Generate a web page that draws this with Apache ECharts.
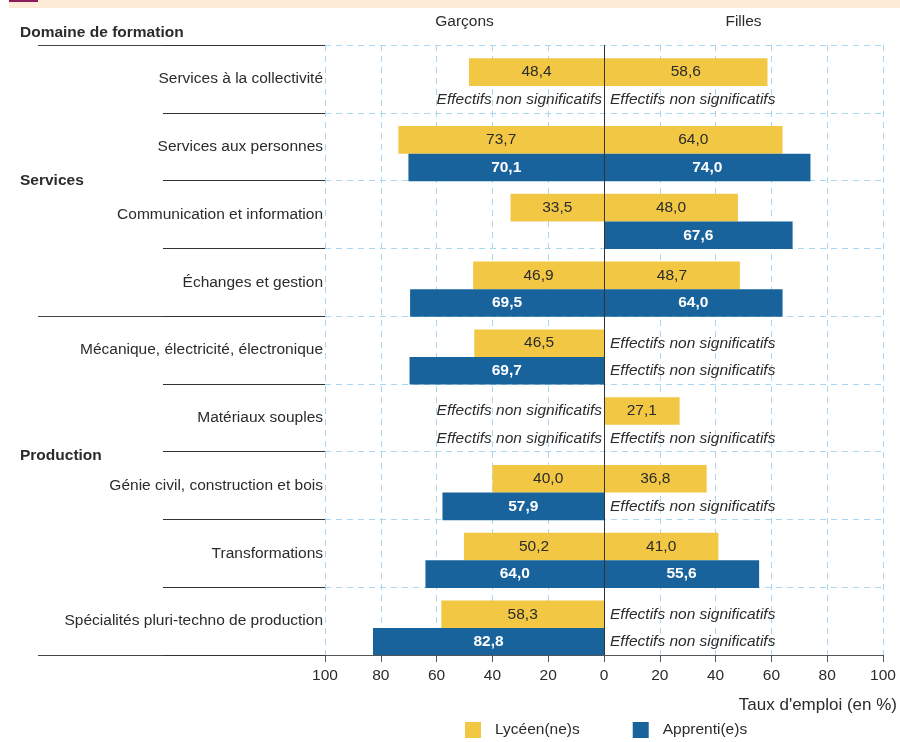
<!DOCTYPE html>
<html>
<head>
<meta charset="utf-8">
<script src="https://cdn.jsdelivr.net/npm/echarts@6/dist/echarts.min.js"></script>
<style>
  html, body { margin: 0; padding: 0; background: #fff; }
  #main { width: 900px; height: 742px; }
</style>
</head>
<body>
<div id="main"></div>
<script>
// domaines de formation (ordre du haut vers le bas)
const categories = [
  'Services à la collectivité',
  'Services aux personnes',
  'Communication et information',
  'Échanges et gestion',
  'Mécanique, électricité, électronique',
  'Matériaux souples',
  'Génie civil, construction et bois',
  'Transformations',
  'Spécialités pluri-techno de production'
]
// 'ns' = effectifs non significatifs, null = pas de donnée
const garconsLycee = [48.4, 73.7, 33.5, 46.9, 46.5, 'ns', 40.0, 50.2, 58.3]
const fillesLycee = [58.6, 64.0, 48.0, 48.7, 'ns', 27.1, 36.8, 41.0, 'ns']
const garconsApprenti = ['ns', 70.1, null, 69.5, 69.7, 'ns', 57.9, 64.0, 82.8]
const fillesApprenti = ['ns', 74.0, 67.6, 64.0, 'ns', 'ns', 'ns', 55.6, 'ns']
const xTicks = [-100, 100, 20]

const FONT = "'Liberation Sans', Arial, sans-serif"
const FS = 15.5
const TEXT = '#2b2b2b'
const YELLOW = '#f2c744'
const BLUE = '#18639b'
const GRID = '#a9d6f0'
const NS = 'Effectifs non significatifs'

const fmt = v => Math.abs(v).toFixed(1).replace('.', ',')

/**
 * values  tableau source
 * sign    -1 pour les garçons (à gauche), 1 pour les filles
 */
function toData (values, sign) {
  return values.map(v => {
    if (v === null) return '-'
    if (v === 'ns') {
      return {
        value: 0,
        label: {
          position: sign < 0 ? 'left' : 'right',
          distance: sign < 0 ? 2 : 6,
          formatter: NS,
          fontStyle: 'italic',
          fontWeight: 'normal',
          color: TEXT
        }
      }
    }
    return sign * v
  })
}

// garçons sur l'axe 0, filles sur l'axe 1 : pas d'empilement nécessaire
function barSeries (name, yAxisIndex, values, sign, color, labelColor, bold) {
  return {
    name,
    type: 'bar',
    yAxisIndex,
    barWidth: 27.6,
    barGap: 0,
    data: toData(values, sign),
    itemStyle: { color },
    label: {
      show: true,
      position: 'inside',
      color: labelColor,
      fontFamily: FONT,
      fontSize: FS,
      fontWeight: bold ? 'bold' : 'normal',
      formatter: p => fmt(p.value)
    }
  }
}

// espace vide au-dessus des barres de chaque domaine
const spacer = yAxisIndex => ({ name: 'spacer', type: 'bar', yAxisIndex, barWidth: 14, barGap: 0, data: [], silent: true })

const option = {
  animation: false,
  textStyle: { fontFamily: FONT },
  grid: { left: 325, right: 17, top: 45, bottom: 87 },
  legend: {
    data: ['Lycéen(ne)s', 'Apprenti(e)s'],
    left: 465,
    top: 722,
    padding: 0,
    icon: 'rect',
    itemWidth: 16,
    itemHeight: 16,
    itemGap: 53,
    textStyle: { color: TEXT, fontSize: FS, fontFamily: FONT, padding: [0, 0, 0, 9] }
  },
  xAxis: {
    type: 'value',
    min: xTicks[0],
    max: xTicks[1],
    interval: xTicks[2],
    axisLine: { show: true, lineStyle: { color: '#555' } },
    axisTick: { show: true, length: 7, lineStyle: { color: '#555' } },
    axisLabel: {
      color: TEXT,
      fontSize: FS,
      margin: 13,
      formatter: v => Math.abs(v)
    },
    splitLine: { show: true, lineStyle: { color: GRID, type: [6, 5] } }
  },
  yAxis: [
    {
      type: 'category',
      inverse: true,
      data: categories,
      axisLine: { show: false, onZero: false },
      axisTick: { show: true, length: 162, lineStyle: { color: '#333' } },
      axisLabel: { color: TEXT, fontSize: FS, margin: 2 },
      splitLine: { show: true, lineStyle: { color: GRID, type: [6, 5] } }
    },
    {
      type: 'category',
      inverse: true,
      data: categories,
      position: 'left',
      show: false
    }
  ],
  series: [
    spacer(0),
    barSeries('Lycéen(ne)s', 0, garconsLycee, -1, YELLOW, TEXT, false),
    barSeries('Apprenti(e)s', 0, garconsApprenti, -1, BLUE, '#fff', true),
    spacer(1),
    barSeries('Lycéen(ne)s', 1, fillesLycee, 1, YELLOW, TEXT, false),
    {
      ...barSeries('Apprenti(e)s', 1, fillesApprenti, 1, BLUE, '#fff', true),
      markLine: {
        silent: true,
        symbol: 'none',
        label: { show: false },
        lineStyle: { color: '#333', type: 'solid', width: 1 },
        data: [{ xAxis: 0 }]
      }
    }
  ]
}

const chart = echarts.init(document.getElementById('main'))
chart.setOption(option)

// décor calculé à partir des axes
const yc = i => chart.convertToPixel({ yAxisIndex: 0 }, i)
const band = yc(1) - yc(0)
const plotTop = yc(0) - band / 2
const xc = v => chart.convertToPixel({ xAxisIndex: 0 }, v)
const xLeft = xc(-100)
const groupBreaks = [0, 4, 9]
const groupLabels = [
  { text: 'Services', at: 2 },
  { text: 'Production', at: 6.06 }
]

const graphic = [
  { type: 'rect', shape: { x: 9, y: 0, width: 891, height: 8 }, style: { fill: '#fdebd8' } },
  { type: 'rect', shape: { x: 9, y: 0, width: 29, height: 2 }, style: { fill: '#8e1a5e' } },
  {
    type: 'text', x: 20, y: 33,
    style: { text: 'Domaine de formation', font: `bold ${FS}px ${FONT}`, fill: TEXT, verticalAlign: 'middle' }
  },
  {
    type: 'text', x: xc(-50), y: 22,
    style: { text: 'Garçons', font: `${FS}px ${FONT}`, fill: TEXT, align: 'center', verticalAlign: 'middle' }
  },
  {
    type: 'text', x: xc(50), y: 22,
    style: { text: 'Filles', font: `${FS}px ${FONT}`, fill: TEXT, align: 'center', verticalAlign: 'middle' }
  },
  {
    type: 'text', x: 897, y: 705,
    style: { text: "Taux d'emploi (en %)", font: `17px ${FONT}`, fill: TEXT, align: 'right', verticalAlign: 'middle' }
  }
]
groupBreaks.forEach(b => {
  const y = Math.round(plotTop + b * band) + 0.5
  graphic.push({
    type: 'line',
    shape: { x1: 38, y1: y, x2: xLeft, y2: y },
    style: { stroke: '#444', lineWidth: 1 }
  })
})
groupLabels.forEach(g => {
  graphic.push({
    type: 'text', x: 20, y: plotTop + g.at * band,
    style: { text: g.text, font: `bold ${FS}px ${FONT}`, fill: TEXT, verticalAlign: 'middle' }
  })
})
chart.setOption({ graphic })
</script>
</body>
</html>
